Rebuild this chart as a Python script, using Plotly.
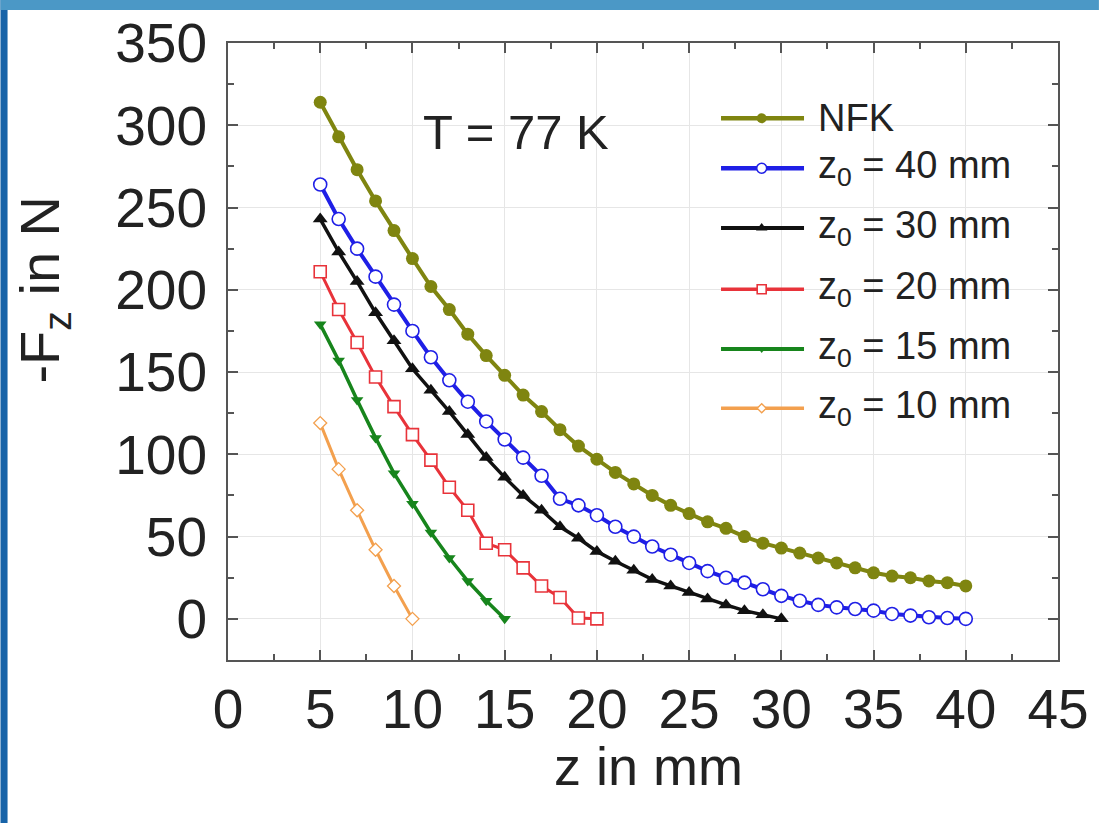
import plotly.graph_objects as go

# ---------------- data ----------------
z_nfk = list(range(5, 41))
f_nfk = [314, 293, 273, 254, 236, 219, 202, 188, 173, 160, 148, 136, 126, 115, 105, 97,
         89, 82, 75, 69, 64, 59, 55, 50, 46, 43, 40, 37, 34, 31, 28, 26, 25, 23, 22, 20]

z_40 = list(range(5, 41))
f_40 = [264, 243, 225, 208, 191, 175, 159, 145, 132, 120, 109, 98, 87, 73, 69, 63,
        56, 50, 44, 39, 34, 29, 25, 22, 18, 14, 11, 8.5, 7, 6, 5, 3, 2, 1, 0.5, 0]

z_30 = list(range(5, 31))
f_30 = [243, 223, 205, 186, 169, 152, 139, 126, 112, 98, 86, 75, 66, 56, 49, 41,
        35, 29.5, 24, 20, 16, 12, 8.5, 5, 2.5, 0]

z_20 = list(range(5, 21))
f_20 = [211, 188, 168, 147, 129, 112, 96.5, 80, 66, 46, 42, 31, 20, 13, 0.5, 0]

z_15 = list(range(5, 16))
f_15 = [179, 157, 133, 110, 88.5, 70, 52.5, 37, 23, 11, 0]

z_10 = list(range(5, 11))
f_10 = [119, 91, 66, 42, 20, 0]

names = ["NFK", "z<sub>0</sub> = 40 mm", "z<sub>0</sub> = 30 mm",
         "z<sub>0</sub> = 20 mm", "z<sub>0</sub> = 15 mm", "z<sub>0</sub> = 10 mm"]
xs = [z_nfk, z_40, z_30, z_20, z_15, z_10]
ys = [f_nfk, f_40, f_30, f_20, f_15, f_10]

# ---------------- styles ----------------
styles = [
    dict(color="#7f8510", width=4, symbol="circle", size=13, fill="#7f8510", mlw=0),
    dict(color="#1f1fe6", width=4, symbol="circle", size=13, fill="white", mlw=1.6),
    dict(color="#111111", width=3.5, symbol="triangle-up", size=13, fill="#111111", mlw=0),
    dict(color="#e8333a", width=3, symbol="square", size=12, fill="white", mlw=1.6),
    dict(color="#17851c", width=3.5, symbol="triangle-down", size=11, fill="#17851c", mlw=0),
    dict(color="#f3a04e", width=3, symbol="diamond", size=10, fill="white", mlw=1.3),
]

FONT = "Liberation Sans, Arial, sans-serif"
TXT = "#222222"

fig = go.Figure()

for x, y, s, n in zip(xs, ys, styles, names):
    fig.add_trace(go.Scatter(
        x=x, y=y, mode="lines+markers", name=n, showlegend=False,
        line=dict(color=s["color"], width=s["width"]),
        marker=dict(symbol=s["symbol"], size=s["size"], color=s["fill"],
                    line=dict(color=s["color"], width=s["mlw"])),
    ))

# ---------------- custom legend (overlay axes in 0..1 units) ----------------
leg_y = [0.878, 0.797, 0.700, 0.601, 0.504, 0.408]
leg_x0, leg_xm, leg_x1, leg_tx = 0.594, 0.643, 0.694, 0.708
for yy, s, n in zip(leg_y, styles, names):
    fig.add_trace(go.Scatter(
        x=[leg_x0, leg_x1], y=[yy, yy], mode="lines", xaxis="x2", yaxis="y2",
        showlegend=False, hoverinfo="skip",
        line=dict(color=s["color"], width=s["width"] + 0.5)))
    fig.add_trace(go.Scatter(
        x=[leg_xm], y=[yy], mode="markers", xaxis="x2", yaxis="y2",
        showlegend=False, hoverinfo="skip",
        marker=dict(symbol=s["symbol"], size=s["size"] - 3, color=s["fill"],
                    line=dict(color=s["color"], width=s["mlw"]))))
    fig.add_annotation(x=leg_tx, y=yy, xref="x2", yref="y2", text=n,
                       showarrow=False, xanchor="left", yanchor="middle",
                       font=dict(family=FONT, size=38, color=TXT))

axis_common = dict(
    showline=True, linecolor="#555555", linewidth=2, mirror="ticks",
    ticks="inside", ticklen=10, tickwidth=2, tickcolor="#555555",
    showgrid=True, gridcolor="#e6e6e6", gridwidth=1, zeroline=False,
    tickfont=dict(family=FONT, size=55, color=TXT),
)

fig.update_layout(
    width=1101, height=823,
    margin=dict(l=228, r=41, t=43, b=163),
    paper_bgcolor="white", plot_bgcolor="white",
    showlegend=False,
    xaxis=dict(range=[0, 45], tick0=0, dtick=5, ticklabelstandoff=0,
               minor=dict(ticks="inside", ticklen=6, tickwidth=2, dtick=2.5, tick0=0,
                          tickcolor="#555555", showgrid=False),
               **axis_common),
    yaxis=dict(range=[-25, 350], tick0=0, dtick=50, ticklabelstandoff=8,
               minor=dict(ticks="inside", ticklen=6, tickwidth=2, dtick=25, tick0=0,
                          tickcolor="#555555", showgrid=False),
               **axis_common),
    xaxis2=dict(range=[0, 1], overlaying="x", visible=False, fixedrange=True),
    yaxis2=dict(range=[0, 1], overlaying="y", visible=False, fixedrange=True),
)

# axis titles and text
fig.add_annotation(x=0.507, y=-0.172, xref="paper", yref="paper", text="z in mm",
                   showarrow=False, xanchor="center", yanchor="middle",
                   font=dict(family=FONT, size=54, color=TXT))
fig.add_annotation(x=-0.222, y=0.60, xref="paper", yref="paper",
                   text="-F<sub>z</sub> in N", textangle=-90,
                   showarrow=False, xanchor="center", yanchor="middle",
                   font=dict(family=FONT, size=56, color=TXT))
fig.add_annotation(x=15.6, y=296, xref="x", yref="y", text="T = 77 K",
                   showarrow=False, xanchor="center", yanchor="middle",
                   font=dict(family=FONT, size=49, color=TXT))

# blue frame strips (left and top edges of the picture)
fig.add_shape(type="rect", xref="paper", yref="paper", x0=-0.2741, x1=-0.2656,
              y0=-0.2642, y1=1.0697, fillcolor="#1763a8", line_width=0, layer="below")
fig.add_shape(type="rect", xref="paper", yref="paper", x0=-0.2741, x1=1.0493,
              y0=1.0535, y1=1.0697, fillcolor="#4b98c6", line_width=0, layer="below")

fig.write_html("out.html", config={"displayModeBar": False},
               post_script="document.body.style.margin='0';document.body.style.overflow='hidden';")
